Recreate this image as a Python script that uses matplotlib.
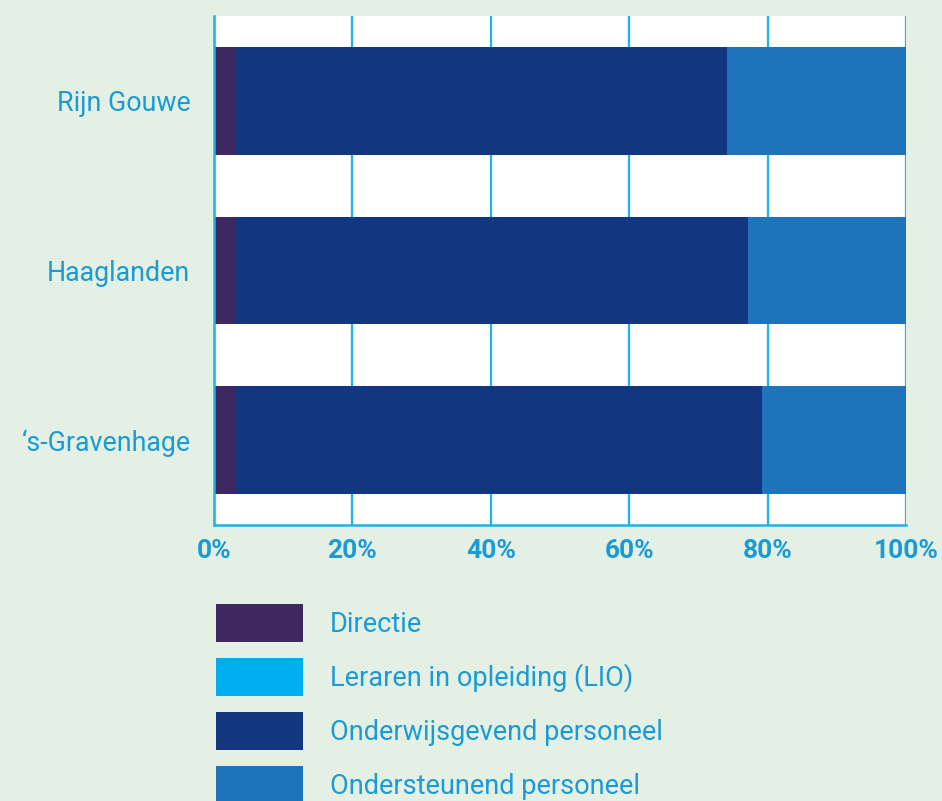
import numpy as np
import matplotlib.pyplot as plt

regios = ["Rijn Gouwe", "Haaglanden", "\u2018s-Gravenhage"]
directie = [3.0, 3.0, 3.0]
lio = [0.0, 0.0, 0.0]
onderwijsgevend = [71.1, 74.2, 76.2]
ondersteunend = [25.9, 22.8, 20.8]

series = ["Directie", "Leraren in opleiding (LIO)", "Onderwijsgevend personeel", "Ondersteunend personeel"]
kleuren = ["#3d2862", "#00aeef", "#12367f", "#1f73ba"]
tekst = "#1a9ad6"
lijn = "#1ab3ea"
achtergrond = "#e4f0e3"

plt.rcParams['font.family'] = ['Roboto', 'DejaVu Sans']

fig = plt.figure(figsize=(9.42, 8.01), dpi=100, facecolor=achtergrond)
ax = fig.add_axes([0.2272, 0.3446, 0.7346, 0.6355])
ax.set_facecolor("white")

y = np.arange(len(regios))
links = np.zeros(len(regios))
for naam, waarden, kleur in zip(series, [directie, lio, onderwijsgevend, ondersteunend], kleuren):
    ax.barh(y, waarden, left=links, height=0.634, color=kleur, label=naam, zorder=3)
    links += np.array(waarden)

ax.set_xlim(0, 100)
ax.set_ylim(2.5, -0.5)
ax.set_yticks(y)
ax.set_yticklabels(regios, fontsize=19.3, color=tekst)
ax.set_xticks([0, 20, 40, 60, 80, 100])
ax.set_xticklabels([f"{v}%" for v in [0, 20, 40, 60, 80, 100]], fontsize=19, color=tekst, fontweight='bold')
ax.tick_params(axis='y', length=0, pad=17)
ax.tick_params(axis='x', length=0, pad=10)
ax.grid(axis='x', color=lijn, linewidth=1.6, zorder=1)
for s in ['top', 'right']:
    ax.spines[s].set_visible(False)
for s in ['left', 'bottom']:
    ax.spines[s].set_color(lijn)
    ax.spines[s].set_linewidth(1.8)
    ax.spines[s].set_zorder(4)

leg = fig.legend(loc='upper left', bbox_to_anchor=(216 / 942, 1 - 604 / 801),
                 bbox_transform=fig.transFigure, frameon=False, fontsize=19.5,
                 handlelength=3.2, handleheight=1.8, handletextpad=1.0,
                 labelspacing=0.58, borderpad=0, borderaxespad=0)
for t in leg.get_texts():
    t.set_color(tekst)

plt.savefig("out.png", dpi=100, facecolor=achtergrond)
